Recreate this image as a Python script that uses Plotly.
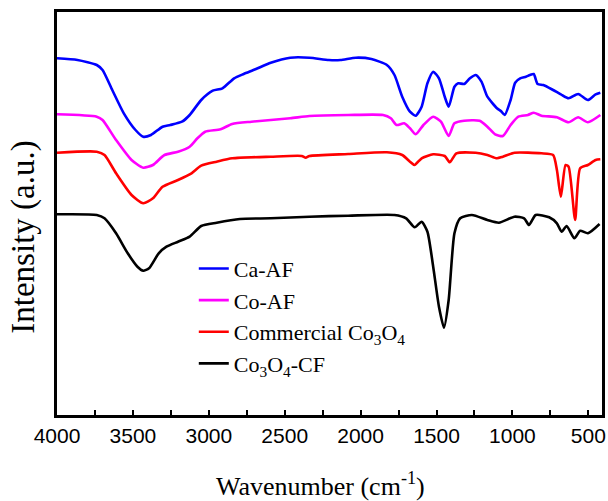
import plotly.graph_objects as go

# Wavenumber (cm-1) and intensity (a.u.)
ca_af_x = [4000, 3865, 3738, 3700, 3636, 3560, 3483, 3432, 3381, 3305, 3254, 3177, 3126, 3050,
           2974, 2910, 2833, 2770, 2693, 2592, 2464, 2337, 2209, 2133, 2031, 1929, 1827, 1777,
           1726, 1675, 1637, 1598, 1560, 1522, 1484, 1446, 1420, 1382, 1357, 1318, 1280, 1242,
           1204, 1165, 1102, 1076, 1051, 1012, 982, 949, 911, 885, 860, 834, 796, 732, 681, 630,
           567, 503, 452, 421]
ca_af_y = [356.7, 355, 350, 345, 325, 301.7, 285, 278.3, 280, 288.3, 290, 293.3, 300, 315,
           324.3, 326.7, 336.7, 341, 345.7, 352.3, 357.3, 357.3, 355, 355, 357.3, 356, 350, 340,
           318.3, 303.3, 299.3, 308.3, 331.7, 343.3, 336.7, 318.3, 308.3, 328.3, 331.7, 331, 336.7, 340,
           333.3, 318.3, 306.7, 304, 300, 315, 332.3, 336.7, 338.3, 340, 341, 331, 330, 325, 320.7, 316.7,
           321, 315, 320.7, 322.3]

co_af_x = [4000, 3738, 3700, 3611, 3509, 3432, 3368, 3292, 3203, 3126, 3075, 3024, 2923, 2846,
           2719, 2464, 2337, 2082, 1852, 1801, 1764, 1713, 1675, 1637, 1586, 1522, 1471, 1420,
           1382, 1318, 1216, 1165, 1114, 1063, 1012, 961, 898, 860, 809, 707, 630, 567, 503, 421]
co_af_y = [300.7, 298.3, 295, 275, 255, 247.3, 250, 260, 263.3, 268.3, 276.7, 283.3, 285.7, 291,
           293.3, 296.7, 299, 300, 300, 296.7, 290, 291.7, 286.7, 280.7, 290, 298.3, 293.3, 279,
           291.7, 294.3, 294.3, 288.3, 280.7, 279, 290, 298.3, 300, 302.3, 299.3, 297.7, 292.7, 297.7, 292.7, 300]

comm_x = [4000, 3738, 3687, 3611, 3509, 3432, 3368, 3305, 3203, 3114, 3050, 2948, 2846, 2592,
          2388, 2362, 2337, 2082, 1827, 1726, 1675, 1645, 1598, 1522, 1446, 1413, 1369, 1242,
          1165, 1102, 1063, 986, 809, 732, 707, 681, 650, 630, 587, 554, 503, 452, 421]
comm_y = [262.3, 263.3, 260, 241.7, 220, 211.7, 216.7, 228.3, 235, 241.7, 249.3, 253.3, 256.7, 258.3,
          259, 257.3, 259, 261, 262.7, 260, 253.3, 250, 256.7, 260.7, 259, 252.7, 261.7, 262.3,
          260, 256.7, 258.3, 262.3, 261.7, 260, 245, 218.3, 250, 248.3, 195, 246.7, 250, 255, 255.7]

cf_x = [4000, 3738, 3687, 3611, 3534, 3470, 3432, 3394, 3330, 3279, 3203, 3126, 3050, 2948,
        2795, 2592, 2337, 2082, 1777, 1700, 1644, 1598, 1560, 1522, 1484, 1451, 1420, 1382,
        1344, 1267, 1165, 1089, 987, 923, 891, 847, 758, 707, 676, 643, 592, 554, 503, 426]
cf_y = [200.7, 200, 196.7, 181.7, 161.7, 148.3, 144.3, 146.7, 161.7, 168.3, 173.3, 178.3, 189, 192.3,
        196, 196.7, 198.3, 199.3, 200, 196.7, 187.7, 193.3, 183.3, 148.3, 108.3, 87.3, 115, 181.7,
        196.7, 200, 195, 192.3, 198.3, 196.7, 190, 200, 197.7, 191.7, 183.3, 189, 176.7, 184.3, 181.7, 191]

series = [
    ("Ca-AF", ca_af_x, ca_af_y, "#0000FF"),
    ("Co-AF", co_af_x, co_af_y, "#FF00FF"),
    ("Commercial Co<sub>3</sub>O<sub>4</sub>", comm_x, comm_y, "#FF0000"),
    ("Co<sub>3</sub>O<sub>4</sub>-CF", cf_x, cf_y, "#000000"),
]

fig = go.Figure()
for i, (name, xs, ys, col) in enumerate(series):
    fig.add_trace(go.Scatter(x=xs, y=ys, mode="lines", name=name, legendgroup=str(i),
                             line=dict(color=col, width=2.6, shape="spline", smoothing=0.6)))

serif = "Liberation Serif, Times New Roman, serif"
sans = "Liberation Sans, Arial, sans-serif"

fig.update_layout(
    width=608, height=501,
    margin=dict(l=57, r=6, t=12, b=86, autoexpand=False),
    paper_bgcolor="white", plot_bgcolor="white",
    showlegend=True,
    legend=dict(x=0.251, y=0.415, xanchor="left", yanchor="top",
                font=dict(family=serif, size=22, color="black"),
                bgcolor="rgba(0,0,0,0)", tracegroupgap=0),
    xaxis=dict(range=[4000, 410], showgrid=False, zeroline=False, automargin=False,
               showline=True, linecolor="black", linewidth=3, mirror=True,
               ticks="inside", ticklen=5, tickwidth=2, tickcolor="black",
               tick0=0, dtick=500,
               minor=dict(ticks="inside", ticklen=5, tickwidth=2, tickcolor="black", dtick=250, tick0=0),
               tickfont=dict(family=sans, size=21, color="black")),
    yaxis=dict(range=[0, 403], showgrid=False, zeroline=False, automargin=False,
               showline=True, linecolor="black", linewidth=3, mirror=True,
               ticks="", showticklabels=False),
    annotations=[
        dict(text="Wavenumber (cm<sup>-1</sup>)", xref="paper", yref="paper", x=0.483, y=0,
             xanchor="center", yanchor="middle", yshift=-69, showarrow=False,
             font=dict(family=serif, size=26, color="black")),
        dict(text="Intensity (a.u.)", xref="paper", yref="paper", x=0, y=0.44,
             xanchor="center", yanchor="middle", xshift=-33, textangle=-90, showarrow=False,
             font=dict(family=serif, size=33, color="black")),
    ],
)

fig.write_html("out.html", config={"displayModeBar": False},
               post_script="document.body.style.margin='0';document.body.style.overflow='hidden';")
